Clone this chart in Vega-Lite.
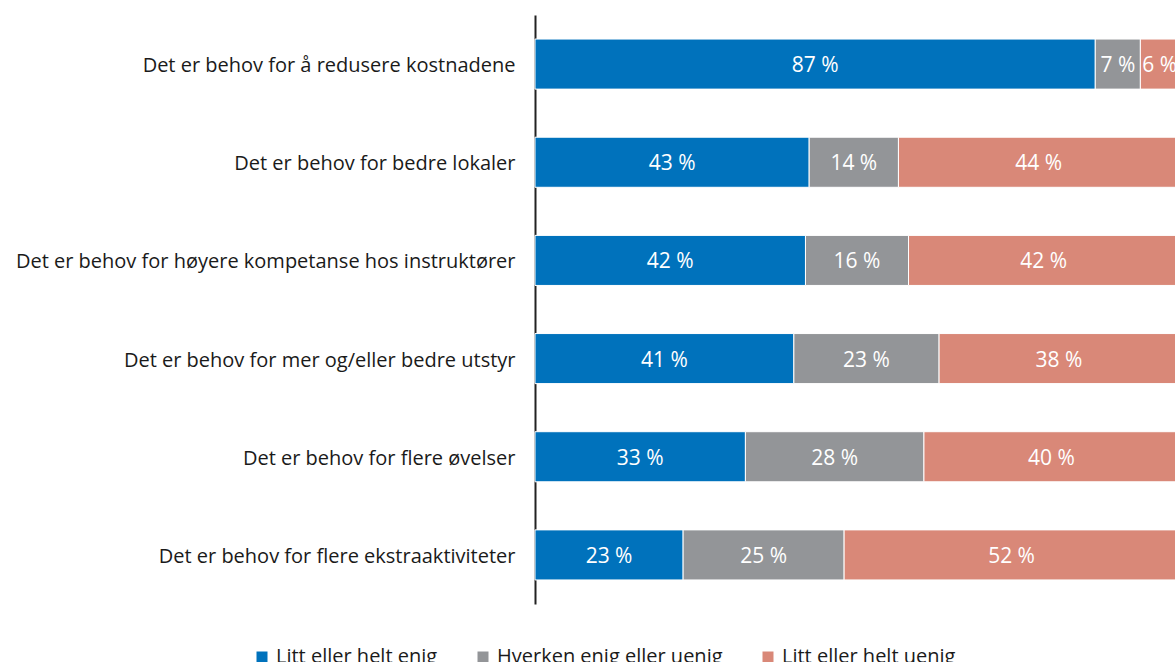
{
  "$schema": "https://vega.github.io/schema/vega-lite/v6.json",
  "autosize": {"type": "none"},
  "padding": {"left": 535, "top": 15, "right": 0, "bottom": 58},
  "width": 640,
  "height": 589,
  "background": "white",
  "config": {"view": {"stroke": null}, "font": "Open Sans"},
  "data": {
    "values": [
      {"q": "Det er behov for å redusere kostnadene", "svar": "Litt eller helt enig", "rank": 1, "pct": 87, "label": "87 %"},
      {"q": "Det er behov for å redusere kostnadene", "svar": "Hverken enig eller uenig", "rank": 2, "pct": 7, "label": "7 %"},
      {"q": "Det er behov for å redusere kostnadene", "svar": "Litt eller helt uenig", "rank": 3, "pct": 6, "label": "6 %"},
      {"q": "Det er behov for bedre lokaler", "svar": "Litt eller helt enig", "rank": 1, "pct": 43, "label": "43 %"},
      {"q": "Det er behov for bedre lokaler", "svar": "Hverken enig eller uenig", "rank": 2, "pct": 14, "label": "14 %"},
      {"q": "Det er behov for bedre lokaler", "svar": "Litt eller helt uenig", "rank": 3, "pct": 44, "label": "44 %"},
      {"q": "Det er behov for høyere kompetanse hos instruktører", "svar": "Litt eller helt enig", "rank": 1, "pct": 42, "label": "42 %"},
      {"q": "Det er behov for høyere kompetanse hos instruktører", "svar": "Hverken enig eller uenig", "rank": 2, "pct": 16, "label": "16 %"},
      {"q": "Det er behov for høyere kompetanse hos instruktører", "svar": "Litt eller helt uenig", "rank": 3, "pct": 42, "label": "42 %"},
      {"q": "Det er behov for mer og/eller bedre utstyr", "svar": "Litt eller helt enig", "rank": 1, "pct": 41, "label": "41 %"},
      {"q": "Det er behov for mer og/eller bedre utstyr", "svar": "Hverken enig eller uenig", "rank": 2, "pct": 23, "label": "23 %"},
      {"q": "Det er behov for mer og/eller bedre utstyr", "svar": "Litt eller helt uenig", "rank": 3, "pct": 38, "label": "38 %"},
      {"q": "Det er behov for flere øvelser", "svar": "Litt eller helt enig", "rank": 1, "pct": 33, "label": "33 %"},
      {"q": "Det er behov for flere øvelser", "svar": "Hverken enig eller uenig", "rank": 2, "pct": 28, "label": "28 %"},
      {"q": "Det er behov for flere øvelser", "svar": "Litt eller helt uenig", "rank": 3, "pct": 40, "label": "40 %"},
      {"q": "Det er behov for flere ekstraaktiviteter", "svar": "Litt eller helt enig", "rank": 1, "pct": 23, "label": "23 %"},
      {"q": "Det er behov for flere ekstraaktiviteter", "svar": "Hverken enig eller uenig", "rank": 2, "pct": 25, "label": "25 %"},
      {"q": "Det er behov for flere ekstraaktiviteter", "svar": "Litt eller helt uenig", "rank": 3, "pct": 52, "label": "52 %"}
    ]
  },
  "encoding": {
    "y": {
      "field": "q", "type": "nominal", "sort": null, "title": null,
      "scale": {"paddingInner": 0.49, "paddingOuter": 0.245},
      "axis": {"domainColor": "#222222", "domainWidth": 2, "ticks": false, "labelPadding": 20, "labelFontSize": 20, "labelColor": "#1a1a1a", "labelLimit": 600, "labelOffset": 2}
    },
    "x": {
      "field": "pct", "type": "quantitative", "stack": "normalize", "title": null,
      "scale": {"range": [0, 644]},
      "axis": null
    },
    "order": {"field": "rank", "type": "ordinal"}
  },
  "layer": [
    {
      "mark": {"type": "bar", "stroke": "white", "strokeWidth": 1},
      "encoding": {
        "color": {
          "field": "svar", "type": "nominal", "title": null,
          "scale": {"domain": ["Litt eller helt enig", "Hverken enig eller uenig", "Litt eller helt uenig"], "range": ["#0072BC", "#939598", "#D98878"]},
          "legend": {"orient": "none", "direction": "horizontal", "legendX": -283, "legendY": 632, "symbolType": "square", "symbolSize": 121, "symbolStrokeWidth": 0, "labelFontSize": 20, "labelLimit": 400, "labelColor": "#1a1a1a", "columnPadding": 35, "labelOffset": 4}
        }
      }
    },
    {
      "mark": {"type": "text", "color": "white", "fontSize": 21, "dy": 2},
      "encoding": {
        "x": {"field": "pct", "type": "quantitative", "stack": "normalize", "bandPosition": 0.5},
        "text": {"field": "label", "type": "nominal"}
      }
    }
  ]
}
